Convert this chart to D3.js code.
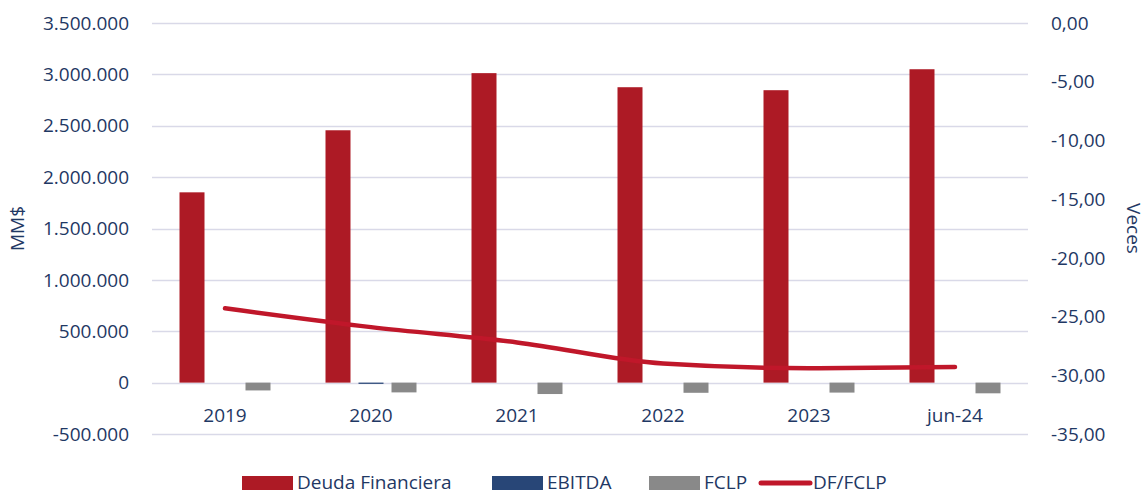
<!DOCTYPE html>
<html>
<head>
<meta charset="utf-8">
<script src="https://cdn.jsdelivr.net/npm/d3@7"></script>
<style>
  body { margin: 0; background: #fff; }
  svg text { font-family: "Open Sans", "Noto Sans", sans-serif; fill: #1f3864; font-size: 19px; }
</style>
</head>
<body>
<svg class="chart"></svg>
<script>
var categories = ['2019', '2020', '2021', '2022', '2023', 'jun-24'];
var deuda = [1852000, 2456000, 3012000, 2875000, 2846000, 3050000];
var ebitda = [0, -12000, 0, 0, 0, 0];
var fclp = [-76000, -95000, -111000, -99000, -97000, -104000];
var ratio = [-24.3, -25.9, -27.2, -29.0, -29.4, -29.3];
var leftTicks = [-500000, 0, 500000, 1000000, 1500000, 2000000, 2500000, 3000000, 3500000];
var rightTicks = [0, -5, -10, -15, -20, -25, -30, -35];

var settings = {
  width: 1146,
  height: 495,
  left: 152,
  right: 1028,
  top: 23,
  bottom: 434,
  barWidth: 25,
  barStep: 33
};

var fmtLeft = function(d) {
  if (d === 0) return '0';
  return (d < 0 ? '-' : '') + d3.format(',')(Math.abs(d)).replace(/,/g, '.');
};
var fmtRight = function(d) {
  return (d < 0 ? '-' : '') + d3.format('.2f')(Math.abs(d)).replace('.', ',');
};

function drawChart() {
  var svg = d3.select('.chart')
    .attr('width', settings.width)
    .attr('height', settings.height);

  var x = d3.scaleBand()
    .domain(categories)
    .range([settings.left, settings.right]);
  var y = d3.scaleLinear()
    .domain([-500000, 3500000])
    .range([settings.bottom, settings.top]);
  var y2 = d3.scaleLinear()
    .domain([-35, 0])
    .range([settings.bottom, settings.top]);

  // gridlines
  svg.append('g')
    .selectAll('line')
    .data(leftTicks)
    .enter()
    .append('line')
    .attr('x1', settings.left)
    .attr('x2', settings.right)
    .attr('y1', function(d) { return Math.round(y(d)) + 0.5; })
    .attr('y2', function(d) { return Math.round(y(d)) + 0.5; })
    .attr('stroke', '#d9d9e8')
    .attr('stroke-width', 1.3);

  // left axis labels
  svg.append('g')
    .selectAll('text')
    .data(leftTicks)
    .enter()
    .append('text')
    .attr('x', 129)
    .attr('y', function(d) { return y(d); })
    .attr('dy', '0.35em')
    .attr('text-anchor', 'end')
    .text(fmtLeft);

  // right axis labels
  svg.append('g')
    .selectAll('text')
    .data(rightTicks)
    .enter()
    .append('text')
    .attr('x', 1051)
    .attr('y', function(d) { return y2(d); })
    .attr('dy', '0.35em')
    .attr('text-anchor', 'start')
    .text(fmtRight);

  // axis titles
  var midY = (settings.top + settings.bottom) / 2;
  svg.append('text')
    .attr('transform', 'translate(24,' + midY + ') rotate(-90)')
    .attr('text-anchor', 'middle')
    .text('MM$');
  svg.append('text')
    .attr('transform', 'translate(1127,' + midY + ') rotate(90)')
    .attr('text-anchor', 'middle')
    .text('Veces');

  // bars
  var series = [
    { values: deuda, color: '#ad1a25', offset: -1 },
    { values: ebitda, color: '#284677', offset: 0 },
    { values: fclp, color: '#898989', offset: 1 }
  ];
  series.forEach(function(s) {
    svg.append('g')
      .selectAll('rect')
      .data(s.values)
      .enter()
      .append('rect')
      .attr('x', function(d, i) {
        return x(categories[i]) + x.bandwidth() / 2 + s.offset * settings.barStep - settings.barWidth / 2;
      })
      .attr('y', function(d) { return Math.min(y(d), y(0)); })
      .attr('width', settings.barWidth)
      .attr('height', function(d) { return Math.abs(y(d) - y(0)); })
      .attr('fill', s.color);
  });

  // category labels
  svg.append('g')
    .selectAll('text')
    .data(categories)
    .enter()
    .append('text')
    .attr('x', function(d) { return x(d) + x.bandwidth() / 2; })
    .attr('y', 415)
    .attr('dy', '0.35em')
    .attr('text-anchor', 'middle')
    .text(function(d) { return d; });

  // ratio line
  var line = d3.line()
    .x(function(d, i) { return x(categories[i]) + x.bandwidth() / 2; })
    .y(function(d) { return y2(d); })
    .curve(d3.curveMonotoneX);
  svg.append('path')
    .datum(ratio)
    .attr('d', line)
    .attr('fill', 'none')
    .attr('stroke', '#c0172a')
    .attr('stroke-width', 4.5)
    .attr('stroke-linecap', 'round');

  // legend
  var legendY = 482;
  var legend = [
    { label: 'Deuda Financiera', color: '#ad1a25', type: 'rect', x: 242 },
    { label: 'EBITDA', color: '#284677', type: 'rect', x: 492 },
    { label: 'FCLP', color: '#898989', type: 'rect', x: 649 },
    { label: 'DF/FCLP', color: '#c0172a', type: 'line', x: 758 }
  ];
  var items = svg.append('g')
    .selectAll('g')
    .data(legend)
    .enter()
    .append('g');
  items.each(function(d) {
    var g = d3.select(this);
    if (d.type === 'rect') {
      g.append('rect')
        .attr('x', d.x)
        .attr('y', legendY - 6)
        .attr('width', 51)
        .attr('height', 14)
        .attr('fill', d.color);
    } else {
      g.append('line')
        .attr('x1', d.x + 3)
        .attr('x2', d.x + 52)
        .attr('y1', legendY + 1)
        .attr('y2', legendY + 1)
        .attr('stroke', d.color)
        .attr('stroke-width', 5)
        .attr('stroke-linecap', 'round');
    }
    g.append('text')
      .attr('x', d.x + 55)
      .attr('y', legendY)
      .attr('dy', '0.35em')
      .text(d.label);
  });
}

drawChart();
</script>
</body>
</html>
